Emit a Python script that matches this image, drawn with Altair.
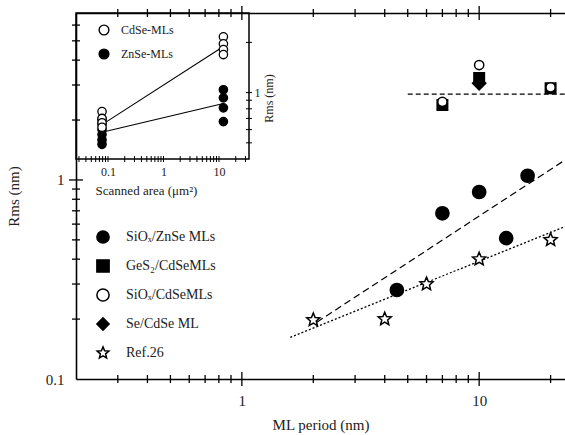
import altair as alt
import pandas as pd

FONT = "Liberation Serif, Times New Roman, DejaVu Serif, serif"
TXT = "#222222"

# ---------------- main panel data ----------------
series_names = ["SiOₓ/ZnSe MLs", "GeS₂/CdSeMLs", "SiOₓ/CdSeMLs", "Se/CdSe ML", "Ref.26"]

znse_x = [4.5, 7.0, 10.0, 13.0, 16.0]
znse_y = [0.28, 0.68, 0.87, 0.51, 1.05]
ges2_x = [7.0, 10.0, 20.0]
ges2_y = [2.38, 3.25, 2.89]
siox_cdse_x = [7.0, 10.0, 20.0]
siox_cdse_y = [2.47, 3.78, 2.92]
se_cdse_x = [10.0]
se_cdse_y = [3.06]
ref26_x = [2.0, 4.0, 6.0, 10.0, 20.0]
ref26_y = [0.198, 0.20, 0.30, 0.40, 0.50]

fit_znse_x = [2.07, 23.0]
fit_znse_y = [0.193, 1.26]
fit_ref_x = [1.6, 23.0]
fit_ref_y = [0.162, 0.583]
plateau_x = [5.0, 23.0]
plateau_y = [2.70, 2.70]

x_dom = [0.2, 23.0]
y_dom = [0.1, 6.9]
x_major = [1, 10]
x_minor = [0.3, 0.4, 0.5, 0.6, 0.7, 0.8, 0.9, 2, 3, 4, 5, 6, 7, 8, 9, 20]
y_major = [0.1, 1]
y_minor = [0.2, 0.3, 0.4, 0.5, 0.6, 0.7, 0.8, 0.9, 2, 3, 4, 5, 6]

# ---------------- inset data ----------------
inset_groups = ["CdSe-MLs", "ZnSe-MLs"]
cdse_in_x = [0.078, 0.078, 0.078, 0.078, 12, 12, 12, 12]
cdse_in_y = [0.77, 0.70, 0.66, 0.62, 2.16, 1.96, 1.81, 1.69]
znse_in_x = [0.078, 0.078, 0.078, 0.078, 0.078, 0.078, 12, 12, 12, 12]
znse_in_y = [0.69, 0.65, 0.60, 0.56, 0.52, 0.49, 1.04, 0.93, 0.81, 0.67]
cdse_fit_x = [0.078, 12]
cdse_fit_y = [0.643, 1.89]
znse_fit_x = [0.078, 12]
znse_fit_y = [0.578, 0.86]

xin_dom = [0.0265, 34.7]
yin_dom = [0.4, 3.0]
xin_ticks = [0.03, 0.04, 0.05, 0.06, 0.07, 0.08, 0.09, 0.1, 0.2, 0.3, 0.4, 0.5, 0.6,
             0.7, 0.8, 0.9, 1, 2, 3, 4, 5, 6, 7, 8, 9, 10, 20, 30]
xin_labels = [0.1, 1, 10]
yin_ticks = [0.5, 0.6, 0.7, 0.8, 0.9, 1, 2]

W, H = 489, 366
IN_W, IN_H = 173, 146

STAR = ("M0,-1L0.2645,-0.364L0.951,-0.309L0.428,0.139L0.588,0.809L0,0.45"
        "L-0.588,0.809L-0.428,0.139L-0.951,-0.309L-0.2645,-0.364Z")
TICK_V = "M0,-1L0,1"
TICK_H = "M-1,0L1,0"

# ---------------- main panel ----------------
xs_main = alt.Scale(type="log", domain=x_dom, nice=False)
ys_main = alt.Scale(type="log", domain=y_dom, nice=False)

main_xaxis = alt.Axis(orient="bottom", values=x_major, format="~g", ticks=False, tickSize=0,
                      domain=True, domainColor="black", domainWidth=1.6, grid=False,
                      labelFont=FONT, labelFontSize=15, labelColor=TXT, labelPadding=14,
                      title="ML period (nm)", titleFont=FONT, titleFontSize=15,
                      titleFontWeight="normal", titleColor=TXT, titlePadding=9, zindex=1)
main_yaxis = alt.Axis(orient="left", values=y_major, format="~g", ticks=False, tickSize=0,
                      domain=True, domainColor="black", domainWidth=1.6, grid=False,
                      labelFont=FONT, labelFontSize=15, labelColor=TXT, labelPadding=12,
                      title="Rms (nm)", titleFont=FONT, titleFontSize=15,
                      titleFontWeight="normal", titleColor=TXT, titlePadding=24, zindex=1)

X_main = alt.X("x:Q", scale=xs_main, axis=main_xaxis)
Y_main = alt.Y("y:Q", scale=ys_main, axis=main_yaxis)

shape_scale = alt.Scale(domain=series_names, range=["circle", "square", "circle", "diamond", STAR])
fill_scale = alt.Scale(domain=series_names, range=["black", "black", "white", "black", "white"])
stroke_scale = alt.Scale(domain=series_names, range=["black"] * 5)
main_legend = alt.Legend(orient="none", legendX=20, legendY=217, title=None, padding=0,
                         labelFont=FONT, labelFontSize=14, labelColor=TXT, labelOffset=16,
                         symbolSize=150, symbolStrokeWidth=1.5, rowPadding=9)


def main_pts(xv, yv, name, size):
    df = pd.DataFrame({"x": xv, "y": yv, "series": name})
    return alt.Chart(df).mark_point(filled=True, size=size, strokeWidth=1.5,
                                    opacity=1).encode(
        x=X_main, y=Y_main,
        shape=alt.Shape("series:N", scale=shape_scale, legend=main_legend),
        fill=alt.Fill("series:N", scale=fill_scale, legend=main_legend),
        stroke=alt.Stroke("series:N", scale=stroke_scale, legend=main_legend),
    )


def main_line(xv, yv, dash, width):
    df = pd.DataFrame({"x": xv, "y": yv})
    return alt.Chart(df).mark_line(color="black", strokeDash=dash, strokeWidth=width,
                                   clip=True).encode(x=X_main, y=Y_main)


def tick_marks(xv, yv, glyph, length, xscale, xaxis, yscale, yaxis, width=1.3):
    """Small tick glyphs centred on the frame line at the given tick values."""
    n = max(len(xv), len(yv))
    xs = list(xv) if len(xv) == n else list(xv) * n
    ys = list(yv) if len(yv) == n else list(yv) * n
    df = pd.DataFrame({"x": xs, "y": ys})
    return alt.Chart(df).mark_point(shape=glyph, size=length ** 2, filled=False,
                                    strokeWidth=width, opacity=1, stroke="black").encode(
        x=alt.X("x:Q", scale=xscale, axis=xaxis),
        y=alt.Y("y:Q", scale=yscale, axis=yaxis))


M = (xs_main, main_xaxis, ys_main, main_yaxis)

main = alt.layer(
    main_line(plateau_x, plateau_y, [5, 3], 1.3),
    main_line(fit_znse_x, fit_znse_y, [7, 4], 1.2),
    main_line(fit_ref_x, fit_ref_y, [2, 2], 1.3),
    main_pts(znse_x, znse_y, series_names[0], 175),
    main_pts(ges2_x, ges2_y, series_names[1], 110),
    main_pts(siox_cdse_x, siox_cdse_y, series_names[2], 85),
    main_pts(se_cdse_x, se_cdse_y, series_names[3], 175),
    main_pts(ref26_x, ref26_y, series_names[4], 190),
    tick_marks(x_minor, [y_dom[0]], TICK_V, 8, *M),
    tick_marks(x_major, [y_dom[0]], TICK_V, 14, *M),
    tick_marks(x_minor, [y_dom[1]], TICK_V, 8, *M),
    tick_marks(x_major, [y_dom[1]], TICK_V, 14, *M),
    tick_marks([x_dom[0]], y_minor, TICK_H, 8, *M),
    tick_marks([x_dom[0]], [1], TICK_H, 14, *M),
)

# top frame line of the main panel (a second x axis at the top)
top_line = alt.Chart(pd.DataFrame({"x": x_dom, "y": y_dom})).mark_point(opacity=0).encode(
    x=alt.X("x:Q", scale=alt.Scale(type="log", domain=x_dom, nice=False), title=None,
            axis=alt.Axis(orient="top", labels=False, ticks=False, domain=True,
                          domainColor="black", domainWidth=1.6, grid=False, zindex=1)),
    y=alt.Y("y:Q", scale=alt.Scale(type="log", domain=y_dom, nice=False), axis=None),
)

# ---------------- inset ----------------
xin_sc = alt.Scale(type="log", domain=xin_dom, nice=False, range=[0, IN_W])
yin_sc = alt.Scale(type="log", domain=yin_dom, nice=False, range=[IN_H, 0])

in_xaxis = alt.Axis(orient="bottom", offset=-(H - IN_H), values=xin_labels, format="~g",
                    ticks=False, tickSize=0, domain=False, grid=False,
                    labelFont=FONT, labelFontSize=12, labelColor=TXT, labelPadding=7,
                    title="Scanned area (μm²)", titleFont=FONT, titleFontSize=13,
                    titleFontWeight="normal", titleColor=TXT, titlePadding=7, titleX=70,
                    zindex=1)
in_yaxis = alt.Axis(orient="right", offset=-(W - IN_W), values=[1], format="~g",
                    ticks=False, tickSize=0, domain=False, grid=False,
                    labelFont=FONT, labelFontSize=12, labelColor=TXT, labelPadding=5,
                    title="Rms (nm)", titleFont=FONT, titleFontSize=12, titleAngle=270,
                    titleFontWeight="normal", titleColor=TXT, titlePadding=15, titleY=85,
                    zindex=1)
X_in = alt.X("x:Q", scale=xin_sc, axis=in_xaxis)
Y_in = alt.Y("y:Q", scale=yin_sc, axis=in_yaxis)
I = (xin_sc, in_xaxis, yin_sc, in_yaxis)

frame_df = pd.DataFrame({"x": [xin_dom[0]], "x2": [xin_dom[1]],
                         "y": [yin_dom[0]], "y2": [yin_dom[1]]})
frame = alt.Chart(frame_df).mark_rect(fillOpacity=0, stroke="black", strokeWidth=1.5).encode(
    x=X_in, x2="x2:Q", y=Y_in, y2="y2:Q")


def in_line(xv, yv):
    df = pd.DataFrame({"x": xv, "y": yv})
    return alt.Chart(df).mark_line(color="black", strokeWidth=1.1).encode(x=X_in, y=Y_in)


in_fill = alt.Scale(domain=inset_groups, range=["white", "black"])
in_stroke = alt.Scale(domain=inset_groups, range=["black", "black"])
in_legend = alt.Legend(orient="none", legendX=22, legendY=11, title=None, padding=0,
                       labelFont=FONT, labelFontSize=12, labelColor=TXT, labelOffset=11,
                       symbolType="circle", symbolSize=95, symbolStrokeWidth=1.4, rowPadding=8)


def in_pts(xv, yv, name):
    df = pd.DataFrame({"x": xv, "y": yv, "grp": name})
    return alt.Chart(df).mark_point(filled=True, shape="circle", size=70,
                                    strokeWidth=1.3, opacity=1).encode(
        x=X_in, y=Y_in,
        fill=alt.Fill("grp:N", scale=in_fill, legend=in_legend),
        stroke=alt.Stroke("grp:N", scale=in_stroke, legend=in_legend))


inset = alt.layer(
    frame,
    in_line(cdse_fit_x, cdse_fit_y),
    in_line(znse_fit_x, znse_fit_y),
    in_pts(znse_in_x, znse_in_y, inset_groups[1]),
    in_pts(cdse_in_x, cdse_in_y, inset_groups[0]),
    tick_marks(xin_ticks, [yin_dom[0]], TICK_V, 6, *I, width=1.0),
    tick_marks([xin_dom[1]], yin_ticks, TICK_H, 6, *I, width=1.0),
)

chart = alt.layer(main, top_line, inset).resolve_scale(
    x="independent", y="independent", fill="independent", shape="independent",
    stroke="independent"
).properties(
    width=W, height=H,
    padding={"left": 76, "top": 13, "right": 0, "bottom": 56},
    autosize=alt.AutoSizeParams(type="none"),
    background="white",
).configure_view(stroke=None)

chart.save("out.html", embed_options={"renderer": "svg", "actions": False})
